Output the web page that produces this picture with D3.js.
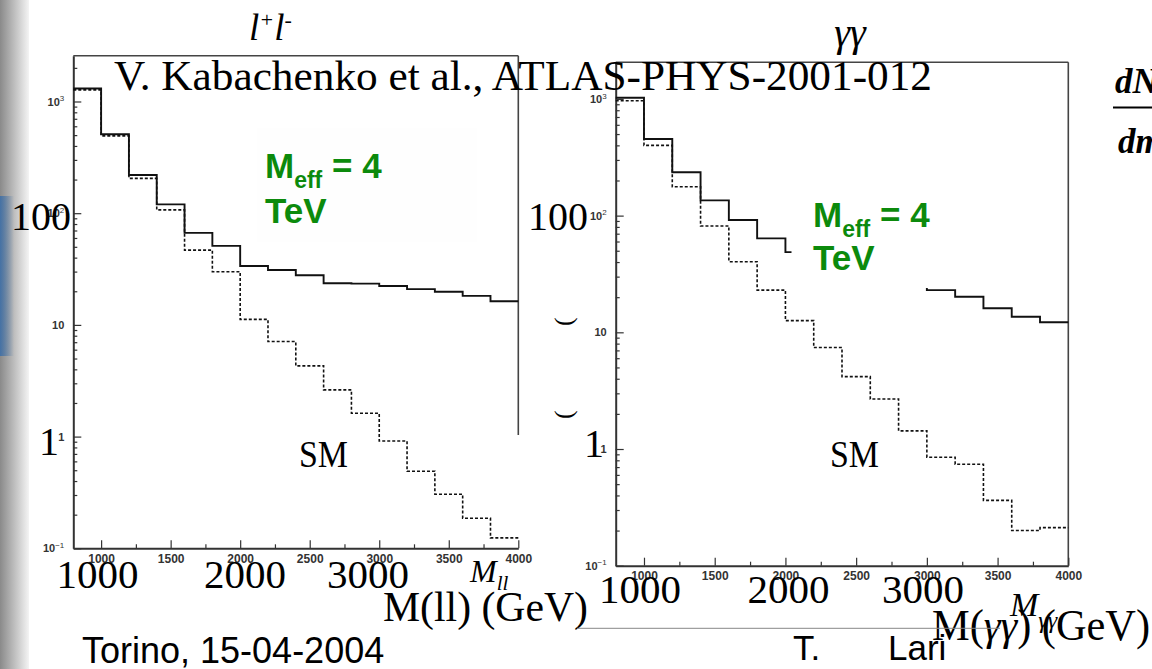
<!DOCTYPE html>
<html>
<head>
<meta charset="utf-8">
<script src="https://cdn.jsdelivr.net/npm/d3@7"></script>
<style>
  body { margin: 0; background: #fff; }
  .tick line { stroke: #333; stroke-width: 1.2px; }
  .domain { stroke: #333; stroke-width: 2px; }
</style>
</head>
<body>
<div class="chart"></div>
<script>
// ATLAS slide: M(ll) and M(gg) spectra, Meff = 4 TeV vs SM

// bin edges (GeV), 200 GeV bins
var binEdges = [800, 1000, 1200, 1400, 1600, 1800, 2000, 2200, 2400, 2600, 2800, 3000, 3200, 3400, 3600, 3800, 4000];
// l+l- : signal (solid) and SM (dashed)
var llSignal = [1307, 509, 220, 120, 66.7, 51, 33.7, 31, 27.8, 23.6, 23.4, 22.3, 20.9, 19.8, 18.2, 16.3];
var llSM = [1270, 492, 205, 107, 46.7, 29.9, 11.2, 7.1, 4.3, 2.62, 1.62, 0.914, 0.49, 0.305, 0.186, 0.124];
// gamma gamma : signal (solid) and SM (dashed)
var ggSignal = [1024, 453, 235, 135, 91.6, 63.8, 48.7, 40, 33, 28, 25, 23.0, 20.2, 16.1, 13.6, 12.2];
var ggSM = [965, 400, 177, 81.5, 40.3, 23, 12.6, 7.4, 4.17, 2.68, 1.43, 0.85, 0.74, 0.363, 0.20, 0.212];

var xTickValues = [1000, 1500, 2000, 2500, 3000, 3500, 4000];
var xMinorValues = [1250, 1750, 2250, 2750, 3250, 3750];
var yTickValues = [0.1, 1, 10, 100, 1000];
var slideXLabels = ["1000", "2000", "3000"];

var svgWidth = 1152;
var svgHeight = 669;
var green = "#0c8a0c";
var serif = "'Liberation Serif', 'Times New Roman', serif";
var sans = "'Liberation Sans', Arial, sans-serif";

var svg = d3.select(".chart")
    .append("svg")
    .attr("width", svgWidth)
    .attr("height", svgHeight);

// slide left border
var defs = svg.append("defs");
var g1 = defs.append("linearGradient").attr("id", "strip");
g1.append("stop").attr("offset", "0").attr("stop-color", "#8a8a8a");
g1.append("stop").attr("offset", "0.55").attr("stop-color", "#c4c4c4");
g1.append("stop").attr("offset", "1").attr("stop-color", "#f4f4f4");
var g2 = defs.append("linearGradient").attr("id", "bluestrip");
g2.append("stop").attr("offset", "0").attr("stop-color", "#3d6fa8").attr("stop-opacity", 0.9);
g2.append("stop").attr("offset", "1").attr("stop-color", "#3d6fa8").attr("stop-opacity", 0);
svg.append("rect").attr("x", 0).attr("y", 0).attr("width", 29).attr("height", svgHeight).attr("fill", "url(#strip)");
svg.append("rect").attr("x", 0).attr("y", 196).attr("width", 14).attr("height", 160).attr("fill", "url(#bluestrip)");

var panels = [
    { x0: 73.3, x1: 518.3, yTop: 55.7, yBot: 548.3, yMax: 2570, rightEdgeEnd: 435,
      signal: llSignal, sm: llSM,
      box: { x: 257, y: 128, w: 220, h: 114, fill: "#fefefe" },
      meff: { x: 265, y: 178, y2: 222.7 }, smLabel: { x: 299, y: 467 } },
    { x0: 615.7, x1: 1068.3, yTop: 62.3, yBot: 565.7, yMax: 2060, rightEdgeEnd: 565.7,
      signal: ggSignal, sm: ggSM,
      box: { x: 791.5, y: 181, w: 230, h: 107, fill: "#ffffff" },
      meff: { x: 813, y: 226.7, y2: 270 }, smLabel: { x: 830, y: 467 } }
];

panels.forEach(drawPanel);

function drawPanel(p) {
    var xScale = d3.scaleLinear().domain([800, 4000]).range([p.x0, p.x1]);
    var yScale = d3.scaleLog().domain([0.1, p.yMax]).range([p.yBot, p.yTop]);
    var chart = svg.append("g");

    // frame top + right
    chart.append("line").attr("x1", p.x0).attr("x2", p.x1).attr("y1", p.yTop).attr("y2", p.yTop)
        .attr("stroke", "#444").attr("stroke-width", 1.6);
    chart.append("line").attr("x1", p.x1).attr("x2", p.x1).attr("y1", p.yTop).attr("y2", p.rightEdgeEnd)
        .attr("stroke", "#444").attr("stroke-width", 1.6);

    // x axis
    chart.append("g")
        .attr("transform", "translate(0," + p.yBot + ")")
        .call(d3.axisBottom(xScale).tickValues(xTickValues).tickSizeInner(-8).tickSizeOuter(0).tickPadding(6)
            .tickFormat(d3.format("d")))
        .call(function(g) {
            g.selectAll("text").attr("font-family", sans).attr("font-size", "12px")
                .attr("font-weight", "bold").attr("fill", "#333");
        });
    chart.append("g")
        .attr("transform", "translate(0," + p.yBot + ")")
        .call(d3.axisBottom(xScale).tickValues(xMinorValues).tickSize(-4).tickFormat(""))
        .call(function(g) { g.select(".domain").remove(); });

    // y axis
    chart.append("g")
        .attr("transform", "translate(" + p.x0 + ",0)")
        .call(d3.axisLeft(yScale).tickValues(yTickValues).tickSizeInner(-8).tickSizeOuter(0).tickPadding(9))
        .call(function(g) {
            g.selectAll("text").each(function(d) {
                var t = d3.select(this);
                var e = Math.round(Math.log10(d));
                t.text(null).attr("font-family", sans).attr("font-size", "11px")
                    .attr("font-weight", "bold").attr("fill", "#333");
                if (e === 0) {
                    t.text("1");
                } else if (e === 1) {
                    t.text("10");
                } else {
                    t.append("tspan").text("10");
                    t.append("tspan").attr("dy", "-0.55em").attr("font-size", "8px").attr("font-weight", "normal")
                        .text(e < 0 ? "\u2212" + (-e) : String(e));
                }
            });
        });
    var minor = yScale.ticks().filter(function(v) {
        var l = Math.log10(v);
        return Math.abs(l - Math.round(l)) > 1e-6;
    });
    chart.append("g")
        .attr("transform", "translate(" + p.x0 + ",0)")
        .call(d3.axisLeft(yScale).tickValues(minor).tickSize(-4).tickFormat(""))
        .call(function(g) { g.select(".domain").remove(); });

    // histograms
    var histLine = d3.line()
        .x(function(d) { return xScale(d.x); })
        .y(function(d) { return yScale(d.v); })
        .curve(d3.curveStepAfter);
    function toSteps(vals) {
        var pts = vals.map(function(v, i) { return { x: binEdges[i], v: v }; });
        pts.push({ x: binEdges[binEdges.length - 1], v: vals[vals.length - 1] });
        return pts;
    }
    chart.append("path")
        .datum(toSteps(p.sm))
        .attr("d", histLine)
        .attr("fill", "none")
        .attr("stroke", "#111")
        .attr("stroke-width", 1.6)
        .attr("stroke-dasharray", "3,2");
    chart.append("path")
        .datum(toSteps(p.signal))
        .attr("d", histLine)
        .attr("fill", "none")
        .attr("stroke", "#111")
        .attr("stroke-width", 1.9);

    // label box (white, hides part of the curve)
    chart.append("rect")
        .attr("x", p.box.x).attr("y", p.box.y).attr("width", p.box.w).attr("height", p.box.h)
        .attr("fill", p.box.fill);

    var meff = chart.append("text")
        .attr("x", p.meff.x).attr("y", p.meff.y)
        .attr("font-family", sans).attr("font-weight", "bold").attr("font-size", "35px").attr("fill", green);
    meff.append("tspan").text("M");
    meff.append("tspan").attr("dy", 10).attr("font-size", "23px").text("eff");
    meff.append("tspan").attr("dy", -10).text(" = 4");
    chart.append("text")
        .attr("x", p.meff.x).attr("y", p.meff.y2)
        .attr("font-family", sans).attr("font-weight", "bold").attr("font-size", "35px").attr("fill", green)
        .text("TeV");

    chart.append("text")
        .attr("x", p.smLabel.x).attr("y", p.smLabel.y)
        .attr("font-family", serif).attr("font-size", "38px")
        .attr("textLength", 49).attr("lengthAdjust", "spacingAndGlyphs")
        .text("SM");
}

// slide overlay texts
var overlay = svg.append("g").attr("font-family", serif).attr("fill", "#000");

var ll = overlay.append("text").attr("x", 249).attr("y", 40).attr("font-size", "37px").attr("font-style", "italic");
ll.append("tspan").text("l");
ll.append("tspan").attr("dy", -13).attr("font-size", "22px").text("+");
ll.append("tspan").attr("dy", 13).text("l");
ll.append("tspan").attr("dy", -13).attr("font-size", "22px").text("-");

overlay.append("text").attr("x", 850).attr("y", 46).attr("text-anchor", "middle")
    .attr("font-size", "40px").attr("font-style", "italic").text("\u03b3\u03b3");

overlay.append("text").attr("x", 114).attr("y", 90).attr("font-size", "42px")
    .attr("textLength", 818).attr("lengthAdjust", "spacingAndGlyphs")
    .text("V. Kabachenko et al., ATLAS-PHYS-2001-012");

// big y labels
overlay.append("text").attr("x", 11).attr("y", 230).attr("font-size", "40px").text("100");
overlay.append("text").attr("x", 528).attr("y", 230).attr("font-size", "40px").text("100");
overlay.append("text").attr("x", 39).attr("y", 455).attr("font-size", "40px").text("1");
overlay.append("text").attr("x", 584).attr("y", 457).attr("font-size", "40px").text("1");

// big x labels
var leftCenters = [97.5, 245, 368];
var rightCenters = [640, 788.5, 923];
overlay.selectAll(".bxl").data(slideXLabels).enter().append("text")
    .attr("x", function(d, i) { return leftCenters[i]; })
    .attr("y", 588).attr("text-anchor", "middle").attr("font-size", "41px")
    .text(function(d) { return d; });
overlay.selectAll(".bxr").data(slideXLabels).enter().append("text")
    .attr("x", function(d, i) { return rightCenters[i]; })
    .attr("y", 603).attr("text-anchor", "middle").attr("font-size", "41px")
    .text(function(d) { return d; });

// axis titles
var mll = overlay.append("text").attr("x", 470).attr("y", 582).attr("font-size", "32px").attr("font-style", "italic");
mll.append("tspan").text("M");
mll.append("tspan").attr("dy", 8).attr("font-size", "21px").text("ll");
var mgg = overlay.append("text").attr("x", 1010).attr("y", 616).attr("font-size", "34px").attr("font-style", "italic");
mgg.append("tspan").text("M");
mgg.append("tspan").attr("dy", 12).attr("font-size", "24px").text("\u03b3\u03b3");

overlay.append("text").attr("x", 383).attr("y", 621).attr("font-size", "42px")
    .attr("textLength", 205).attr("lengthAdjust", "spacingAndGlyphs")
    .text("M(ll) (GeV)");
var mggT = overlay.append("text").attr("x", 932).attr("y", 640).attr("font-size", "44px")
    .attr("textLength", 218).attr("lengthAdjust", "spacingAndGlyphs");
mggT.append("tspan").text("M(");
mggT.append("tspan").attr("font-style", "italic").text("\u03b3\u03b3");
mggT.append("tspan").text(") (GeV)");

// rotated parens peeking out between the plots
[326, 419].forEach(function(yy) {
    overlay.append("text")
        .attr("transform", "translate(572," + yy + ") rotate(-90)")
        .attr("font-size", "26px").text("(");
});

// dN/dm
overlay.append("text").attr("x", 1115).attr("y", 93).attr("font-size", "35px")
    .attr("font-weight", "bold").attr("font-style", "italic").text("dN");
svg.append("line").attr("x1", 1113).attr("x2", 1152).attr("y1", 107.5).attr("y2", 107.5)
    .attr("stroke", "#000").attr("stroke-width", 2);
overlay.append("text").attr("x", 1118).attr("y", 153).attr("font-size", "35px")
    .attr("font-weight", "bold").attr("font-style", "italic").text("dm");

// footer
svg.append("line").attr("x1", 577).attr("x2", 1000).attr("y1", 628.3).attr("y2", 628.3)
    .attr("stroke", "#888").attr("stroke-width", 1);
svg.append("text").attr("x", 82).attr("y", 663).attr("font-family", sans).attr("font-size", "36px")
    .text("Torino, 15-04-2004");
svg.append("text").attr("x", 793).attr("y", 660).attr("font-family", sans).attr("font-size", "35px").text("T.");
svg.append("text").attr("x", 888).attr("y", 660).attr("font-family", sans).attr("font-size", "35px").text("Lari");
</script>
</body>
</html>
